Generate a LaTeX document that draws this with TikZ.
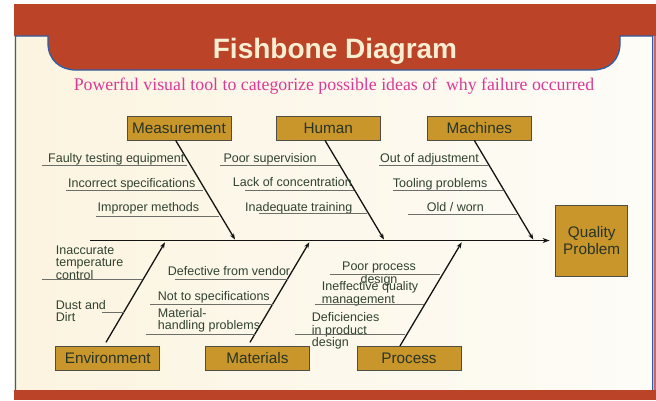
\documentclass[tikz,border=0pt]{standalone}
\usepackage{fontspec}
\setmainfont{Liberation Serif}
\newfontfamily\labfont{Liberation Sans}
\usetikzlibrary{arrows.meta,calc}
\definecolor{band}{RGB}{187,68,40}
\definecolor{bord}{RGB}{45,95,165}
\definecolor{cream}{RGB}{252,244,224}
\definecolor{creamr}{RGB}{253,252,247}
\definecolor{titlec}{RGB}{250,238,210}
\definecolor{pinkc}{RGB}{218,58,150}
\definecolor{gold}{RGB}{200,150,42}
\definecolor{boxline}{RGB}{80,78,68}
\definecolor{boxtext}{RGB}{40,52,36}
\definecolor{labtext}{RGB}{48,66,48}
\definecolor{subline}{RGB}{110,110,105}
\definecolor{bone}{RGB}{20,20,20}
\definecolor{edgepink}{RGB}{205,100,110}
\begin{document}
\begin{tikzpicture}[x=1pt,y=-1pt,
  catbox/.style={draw=boxline, line width=0.8pt, fill=gold, text=boxtext,
    font=\labfont\fontsize{15.3}{16}\selectfont, minimum width=104pt,
    minimum height=24pt, inner sep=0pt},
  cause/.style={text=labtext, font=\labfont\fontsize{12.5}{12.5}\selectfont,
    inner sep=0pt, align=left},
  subln/.style={draw=subline, line width=0.9pt},
  bonearr/.style={draw=bone, line width=1.3pt, -{Stealth[length=6pt,width=4.5pt]}},
  spinearr/.style={draw=bone, line width=1.6pt, -{Stealth[length=7pt,width=5pt]}}
]
% background
\fill[white] (0,0) rectangle (656,400);
\useasboundingbox (0,0) rectangle (656,400);
\fill[left color=cream, right color=creamr] (14,36) rectangle (656,390);
\fill[band] (14,4) -- (656,4) -- (656,36) -- (620,36) -- (620,43)
  .. controls (620,60) and (609,70) .. (593,70) -- (76,70)
  .. controls (60,70) and (48,60) .. (48,43) -- (48,36) -- (14,36) -- cycle;
\fill[band] (14,390) rectangle (656,400);
\fill[edgepink] (654,36) rectangle (656,390);
\draw[bord, line width=1.3pt] (15.5,390) -- (15.5,36) -- (48,36) -- (48,43)
  .. controls (48,60) and (60,70) .. (76,70) -- (593,70)
  .. controls (609,70) and (620,60) .. (620,43) -- (620,36) -- (652.7,36) -- (652.7,390);

% titles
\node[font=\labfont\bfseries\fontsize{28}{30}\selectfont, text=titlec, anchor=base]
  (title) at (335,58.5) {Fishbone Diagram};
\node[font=\fontsize{17.8}{20}\selectfont, text=pinkc, anchor=base]
  (subtitle) at (334,90.5) {Powerful visual tool to categorize possible ideas of\ \ why failure occurred};

% category boxes
\node[catbox] (meas) at (179,128) {Measurement};
\node[catbox] (hum)  at (328.3,128) {Human};
\node[catbox] (mach) at (479.3,128) {Machines};
\node[catbox] (env)  at (107.8,358) {Environment};
\node[catbox] (mat)  at (257.4,358) {Materials};
\node[catbox] (proc) at (409,358.3) {Process};
\node[catbox, minimum width=72pt, minimum height=71pt, align=center,
  font=\labfont\fontsize{15.3}{16.5}\selectfont] (qp) at (591.7,240.5) {Quality\\Problem};

% spine
\coordinate (sp0) at (90,240.5);
\draw[spinearr, shorten >=5.7pt] (sp0) -- (qp.west);

% bones
\coordinate (tm) at (235,239.5);
\coordinate (th) at (384,239.5);
\coordinate (tc) at (533.3,239.5);
\coordinate (te) at (165,242.3);
\coordinate (ta) at (309.3,242.3);
\coordinate (tp) at (461.7,242.3);
\draw[bonearr] ([xshift=-3.3pt]meas.south) -- (tm);
\draw[bonearr] ([xshift=-3.3pt]hum.south) -- (th);
\draw[bonearr] ([xshift=-5pt]mach.south) -- (tc);
\draw[bonearr] ([xshift=-1.8pt,yshift=3.3pt]env.north) -- (te);
\draw[bonearr] ([xshift=-7.4pt,yshift=3.3pt]mat.north) -- (ta);
\draw[bonearr] ([xshift=-9pt]proc.north) -- (tp);

% Measurement causes
\node[cause, anchor=base west] (c1) at (48,162) {Faulty testing equipment};
\node[cause, anchor=base west] (c2) at (68,187) {Incorrect specifications};
\node[cause, anchor=base west] (c3) at (97.5,211.5) {Improper methods};
\draw[subln] (41.7,165) -- (186.7,165);
\draw[subln] (66,190) -- (203,190);
\draw[subln] (95.7,216) -- (219,216);

% Human causes
\node[cause, anchor=base west] (c4) at (223.3,162) {Poor supervision};
\node[cause, anchor=base west] (c5) at (232.7,186.5) {Lack of concentration};
\node[cause, anchor=base west] (c6) at (245,211.5) {Inadequate training};
\draw[subln] (220,165) -- (339,165);
\draw[subln] (245,190) -- (354,190);
\draw[subln] (259,213) -- (367,213);

% Machines causes
\node[cause, anchor=base west] (c7) at (380,162) {Out of adjustment};
\node[cause, anchor=base west] (c8) at (392.7,187) {Tooling problems};
\node[cause, anchor=base west] (c9) at (426.7,211.5) {Old / worn};
\draw[subln] (379,165) -- (488,165);
\draw[subln] (393,190) -- (503,190);
\draw[subln] (408,214) -- (517,214);

% Environment causes (anchor base = last line baseline)
\node[cause, anchor=base west] (c10) at (55.7,279) {Inaccurate\\temperature\\control};
\node[cause, anchor=base west] (c11) at (55.7,321.7) {Dust and\\Dirt};
\draw[subln] (41.7,279.3) -- (142,279.3);
\draw[subln] (101.7,312.7) -- (123.5,312.7);

% Materials causes
\node[cause, anchor=base west] (c12) at (167.7,275.5) {Defective from vendor};
\node[cause, anchor=base west] (c13) at (157.7,300.5) {Not to specifications};
\node[cause, anchor=base west] (c14) at (157.7,329.5) {Material-\\handling problems};
\draw[subln] (175,279.3) -- (288,279.3);
\draw[subln] (150,304) -- (273,304);
\draw[subln] (146,334) -- (255,334);

% Process causes
\node[cause, anchor=base, align=center] (c15) at (379,283) {Poor process\\design};
\node[cause, anchor=base west] (c16) at (321.7,303) {Ineffective quality\\management};
\node[cause, anchor=base west] (c17) at (311.7,346.5) {Deficiencies\\in product\\design};
\draw[subln] (330,274.3) -- (440,274.3);
\draw[subln] (315,304) -- (424,304);
\draw[subln] (295,334) -- (405,334);
\end{tikzpicture}
\end{document}
